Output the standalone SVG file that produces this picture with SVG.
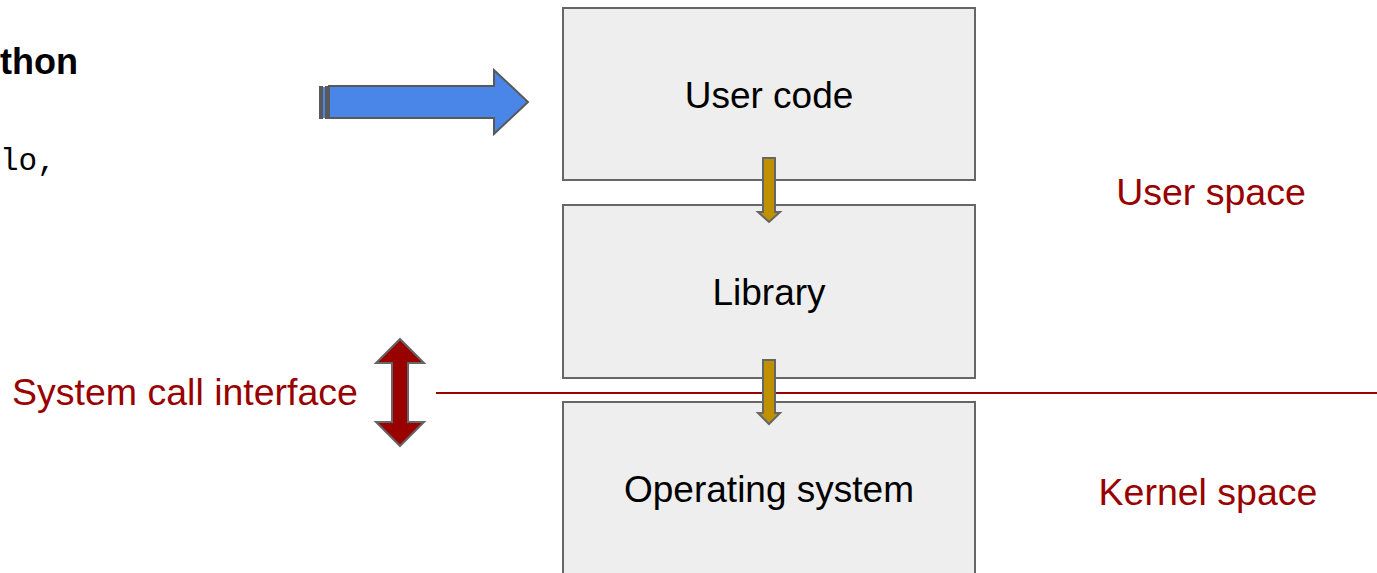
<svg xmlns="http://www.w3.org/2000/svg" width="1377" height="573" viewBox="0 0 1377 573">
  <style>
    .box { fill: #eeeeee; stroke: #666666; stroke-width: 2; }
    .lbl { font-family: "Liberation Sans", Arial, sans-serif; font-size: 37px; fill: #000000; text-anchor: middle; }
    .red { font-family: "Liberation Sans", Arial, sans-serif; font-size: 37.5px; fill: #990000; }
    .down { fill: #bf9000; stroke: #666666; stroke-width: 2; stroke-linejoin: miter; }
  </style>
  <rect width="1377" height="573" fill="#ffffff"/>

  <!-- code panel on the left -->
  <g id="code-title">
    <text x="0" y="74" font-family="'Liberation Sans', Arial, sans-serif" font-size="36" font-weight="bold">thon</text>
  </g>
  <g id="code-line">
    <text x="0" y="170" font-family="'Liberation Mono', 'Courier New', monospace" font-size="31">lo,</text>
  </g>

  <!-- boundary between user space and kernel space -->
  <g id="connectors">
    <line x1="436" y1="393" x2="1377" y2="393" stroke="#990000" stroke-width="2"/>
  </g>

  <!-- stack of layers -->
  <g id="user-code">
    <rect class="box" x="563" y="8" width="412" height="172"/>
    <text class="lbl" x="769" y="108">User code</text>
  </g>
  <g id="library">
    <rect class="box" x="563" y="205" width="412" height="173"/>
    <text class="lbl" x="769" y="305">Library</text>
  </g>
  <g id="operating-system">
    <rect class="box" x="563" y="402" width="412" height="180"/>
    <text class="lbl" x="769" y="502">Operating system</text>
  </g>

  <!-- boundary line passes over the OS box edges -->
  <line x1="563" y1="393" x2="975" y2="393" stroke="#990000" stroke-width="2"/>

  <!-- downward call arrows -->
  <g id="call-arrow-1">
    <path class="down" d="M763,158 H775 V212 H780 L769,222 L758,212 H763 Z"/>
  </g>
  <g id="call-arrow-2">
    <path class="down" d="M763,360 H775 V413 H780 L769,424 L758,413 H763 Z"/>
  </g>

  <!-- striped entry arrow -->
  <g id="entry-arrow">
    <rect x="319" y="86" width="4" height="33" fill="#595959"/>
    <rect x="323" y="87" width="2" height="31" fill="#4a86e8"/>
    <path d="M329,86 H494 V70 L528,102 L494,134 V118 H329 Z" fill="#4a86e8" stroke="#595959" stroke-width="2" stroke-linejoin="miter"/>
    <rect x="325" y="86" width="5" height="33" fill="#595959"/>
  </g>

  <!-- system call interface -->
  <g id="syscall-label">
    <text class="red" x="12" y="405">System call interface</text>
  </g>
  <g id="syscall-arrow">
    <path d="M400,339 L424,363 H408 V422 H424 L400,446 L376,422 H392 V363 H376 Z" fill="#990000" stroke="#666666" stroke-width="2" stroke-linejoin="miter"/>
  </g>

  <g id="user-space">
    <text class="red" x="1211" y="205" text-anchor="middle">User space</text>
  </g>
  <g id="kernel-space">
    <text class="red" x="1208" y="505" text-anchor="middle">Kernel space</text>
  </g>
</svg>
